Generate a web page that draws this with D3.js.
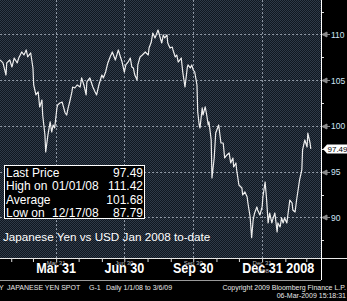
<!DOCTYPE html>
<html><head><meta charset="utf-8">
<script src="https://cdn.jsdelivr.net/npm/d3@7"></script>
<style>html,body{margin:0;padding:0;background:#000;overflow:hidden}</style>
</head><body><svg id="c" width="347" height="301"></svg>
<script>
// days since 2008-01-01 (UTC) and USD/JPY close
const days = [15,19,23,24,28,31,34,38,40,44,47,50,52,56,59,60,63,66,68,71,72,75,76,79,82,84,86,88,91,92,95,98,99,102,104,106,108,111,112,115,118,122,124,127,130,131,135,139,142,144,147,151,153,156,159,162,165,169,173,175,178,181,183,186,189,191,193,195,198,199,202,205,209,213,214,217,219,222,225,226,229,231,233,235,238,239,242,245,246,249,251,253,257,259,262,265,266,269,271,273,275,278,279,281,282,285,286,289,291,293,294,297,298,301,303,307,310,313,315,318,321,323,326,327,330,331,334,338,339,342,345,346,349,351,353,355,358,359,362,365,366,369,371,373,375,378,379,382,385,386,389,391,393,395,398,399,402,405,406,409,411,413,415,418,419,422,425,426,429,430];
const prices = [107.21,106.89,105.57,106.89,107.21,106.45,107.43,106.89,107.43,108.09,107.76,108.31,107.54,107.98,106.34,104.48,103.39,103.72,102.08,102.84,101.20,99.02,97.16,99.02,100.44,99.34,100.11,99.78,101.97,102.30,102.51,102.62,102.30,101.42,101.20,101.97,102.62,103.72,104.26,104.15,104.48,104.26,105.25,104.48,103.39,104.81,105.25,104.26,103.72,103.39,104.48,105.57,105.25,105.90,106.89,107.54,108.09,107.21,108.31,107.76,106.99,105.90,106.67,106.99,107.43,106.45,106.34,105.57,105.03,106.67,107.54,107.76,108.09,107.76,108.52,109.18,110.16,109.62,110.27,110.49,109.62,109.07,109.95,109.62,109.95,109.07,108.52,108.63,108.31,107.54,107.76,106.99,107.43,105.90,104.26,106.34,106.67,106.34,106.67,106.12,105.90,104.48,101.53,100.11,99.78,101.97,101.20,102.08,101.20,100.11,100.44,98.47,94.32,96.50,99.23,100.11,98.14,98.14,96.50,96.83,97.05,95.96,96.50,95.52,95.96,95.19,93.55,93.22,92.46,92.79,92.24,91.58,90.05,87.79,89.73,90.49,91.15,90.82,90.27,91.15,92.24,93.88,91.91,89.40,90.49,89.40,89.73,90.49,88.42,89.40,88.96,89.95,89.40,89.95,89.40,90.05,91.91,91.58,90.82,90.60,91.91,93.00,94.10,95.19,97.38,98.47,97.70,99.23,98.14,97.49];
const yTicks = [90,95,100,105,110];
const yMinor = [87.5,92.5,97.5,102.5,107.5,112.5];
const qDays = [90,181,273,365];
const qLabels = ["Mar 31","Jun 30","Sep 30","Dec 31 2008"];
const qSmall = ["Mar 31","Jun 30","Sep 30","Dec 31"];
const statLabels = ["Last Price","High on","Average","Low on"];
const statDates = ["","01/01/08","","12/17/08"];
const statValues = ["97.49","111.42","101.68","87.79"];
const lastPrice = 97.49;
const title = "Japanese Yen vs USD Jan 2008 to-date";

const FONT = "'Liberation Sans', Arial, sans-serif";
const base = Date.UTC(2008,0,1);
const toDate = d => new Date(base + d*864e5);
const W = 321, H = 258;
const svg = d3.select("#c");

const x = d3.scaleUtc().domain([toDate(15), toDate(443.6)]).range([0, W]);
const y = d3.scaleLinear().domain([85.57, 113.77]).range([H, 0]);

// background pattern
const defs = svg.append("defs");
const pat = defs.append("pattern").attr("id","bg").attr("width",2).attr("height",2).attr("patternUnits","userSpaceOnUse");
pat.append("rect").attr("width",2).attr("height",2).attr("fill","#101720");
pat.append("rect").attr("x",0).attr("y",0).attr("width",1).attr("height",1).attr("fill","#2f3a48");
pat.append("rect").attr("x",1).attr("y",1).attr("width",1).attr("height",1).attr("fill","#2f3a48");
svg.append("rect").attr("width",347).attr("height",301).attr("fill","#000");
svg.append("rect").attr("width",W).attr("height",H).attr("fill","url(#bg)");

// grid
const g = svg.append("g").attr("stroke","#8d96a2").attr("stroke-dasharray","2,2").attr("stroke-width",1);
yTicks.forEach(v => g.append("line").attr("x1",0).attr("x2",W).attr("y1",Math.round(y(v))+0.5).attr("y2",Math.round(y(v))+0.5));
qDays.forEach(d => g.append("line").attr("y1",0).attr("y2",H).attr("x1",Math.round(x(toDate(d)))+0.5).attr("x2",Math.round(x(toDate(d)))+0.5));

// price line
const data = days.map((d,i)=>({d:toDate(d), v:prices[i]}));
svg.append("path").datum(data)
  .attr("d", d3.line().x(p=>x(p.d)).y(p=>y(p.v)))
  .attr("fill","none").attr("stroke","#eeeeee").attr("stroke-width",1.2).attr("stroke-linejoin","round");

// stats box
svg.append("rect").attr("x",4.5).attr("y",165.5).attr("width",140).attr("height",53).attr("fill","#000").attr("stroke","#fff").attr("stroke-width",1);
const rowY = [176.5,190,203.5,217];
statLabels.forEach((t,i)=>{
  svg.append("text").attr("x",6).attr("y",rowY[i]).text(t).attr("fill","#fff").attr("font-family",FONT).attr("font-size",12);
  if(statDates[i]) svg.append("text").attr("x",52).attr("y",rowY[i]).text(statDates[i]).attr("fill","#fff").attr("font-family",FONT).attr("font-size",12);
  svg.append("text").attr("x",143).attr("y",rowY[i]).attr("text-anchor","end").text(statValues[i]).attr("fill","#fff").attr("font-family",FONT).attr("font-size",12);
});
svg.append("text").attr("x",3).attr("y",240.5).text(title).attr("fill","#fff").attr("font-family",FONT).attr("font-size",11.7);

// right axis
const ra = svg.append("g").attr("transform",`translate(${W},0)`)
  .call(d3.axisRight(y).tickValues(yTicks).tickSize(0).tickPadding(10).tickFormat(d3.format("d")));
ra.select(".domain").remove();
ra.selectAll("text").attr("fill","#cfe4f6").attr("font-family",FONT).attr("font-size",8.5).attr("dy","0.35em");
yTicks.forEach(v=>{
  const yy = Math.round(y(v))+0.5;
  svg.append("path").attr("d",`M${W+1},${yy}L${W+6},${yy-2.5}L${W+6},${yy+2.5}Z M${W+6},${yy}L${W+9},${yy}`)
    .attr("fill","#8a8a8a").attr("stroke","#8a8a8a").attr("stroke-width",1);
});
yMinor.forEach(v=>{
  const yy = Math.round(y(v))+0.5;
  svg.append("line").attr("x1",W).attr("x2",W+3).attr("y1",yy).attr("y2",yy).attr("stroke","#ddd");
});
// last price flag
const ly = y(lastPrice);
svg.append("path").attr("d",`M${W+2},${ly}L${W+6},${ly-4.5}L347,${ly-4.5}L347,${ly+4.5}L${W+6},${ly+4.5}Z`).attr("fill","#fff");
svg.append("text").attr("x",W+6.5).attr("y",ly+3).text(lastPrice.toFixed(2)).attr("fill","#000").attr("font-family",FONT).attr("font-size",8);

// frame lines
svg.append("line").attr("x1",0).attr("x2",347).attr("y1",H+0.5).attr("y2",H+0.5).attr("stroke","#e8e8e8");
svg.append("line").attr("x1",0).attr("x2",W).attr("y1",280.5).attr("y2",280.5).attr("stroke","#9a9a9a");
svg.append("line").attr("x1",W+0.5).attr("x2",W+0.5).attr("y1",0).attr("y2",280).attr("stroke","#fff");

// bottom axis (month-end ticks)
const monthEnds = d3.utcMonth.range(toDate(16), toDate(443)).map(m=>d3.utcDay.offset(m,-1));
const ba = svg.append("g").attr("transform",`translate(0,${H})`)
  .call(d3.axisBottom(x).tickValues(monthEnds).tickSize(4).tickFormat(""));
ba.select(".domain").remove();
ba.selectAll("line").attr("stroke","#ddd");

// small labels under big ones
qDays.forEach((d,i)=>{
  svg.append("text").attr("x",x(toDate(d))).attr("y",265).attr("text-anchor","middle").text(qSmall[i])
    .attr("fill","#bbb").attr("font-family",FONT).attr("font-size",6);
});
svg.append("text").attr("x",x(toDate(365))).attr("y",273).attr("text-anchor","middle").text("2008")
  .attr("fill","#bbb").attr("font-family",FONT).attr("font-size",6);
qDays.forEach((d,i)=>{
  const xx = x(toDate(d));
  const t = svg.append("text").text(qLabels[i]).attr("fill","#fff").attr("font-family",FONT).attr("font-weight","bold").attr("font-size",14);
  if(i===3) t.attr("transform",`translate(${xx-20},272.5) scale(0.9,1)`);
  else t.attr("text-anchor","middle").attr("transform",`translate(${xx},272.5) scale(0.9,1)`);
});

// footer
const ft = (tx,xx,yy,anchor)=>svg.append("text").attr("x",xx).attr("y",yy).attr("text-anchor",anchor||"start").text(tx)
  .attr("fill","#e8e8e8").attr("font-family",FONT).attr("font-size",7);
ft("Y",-1,289.5); ft("JAPANESE YEN SPOT",7,289.5); ft("G-1",89,289.5); ft("Daily 1/1/08 to 3/6/09",106,289.5);
ft("Copyright 2009 Bloomberg Finance L.P.",346,289.5,"end");
ft("06-Mar-2009 15:18:31",346,298,"end");
</script></body></html>
